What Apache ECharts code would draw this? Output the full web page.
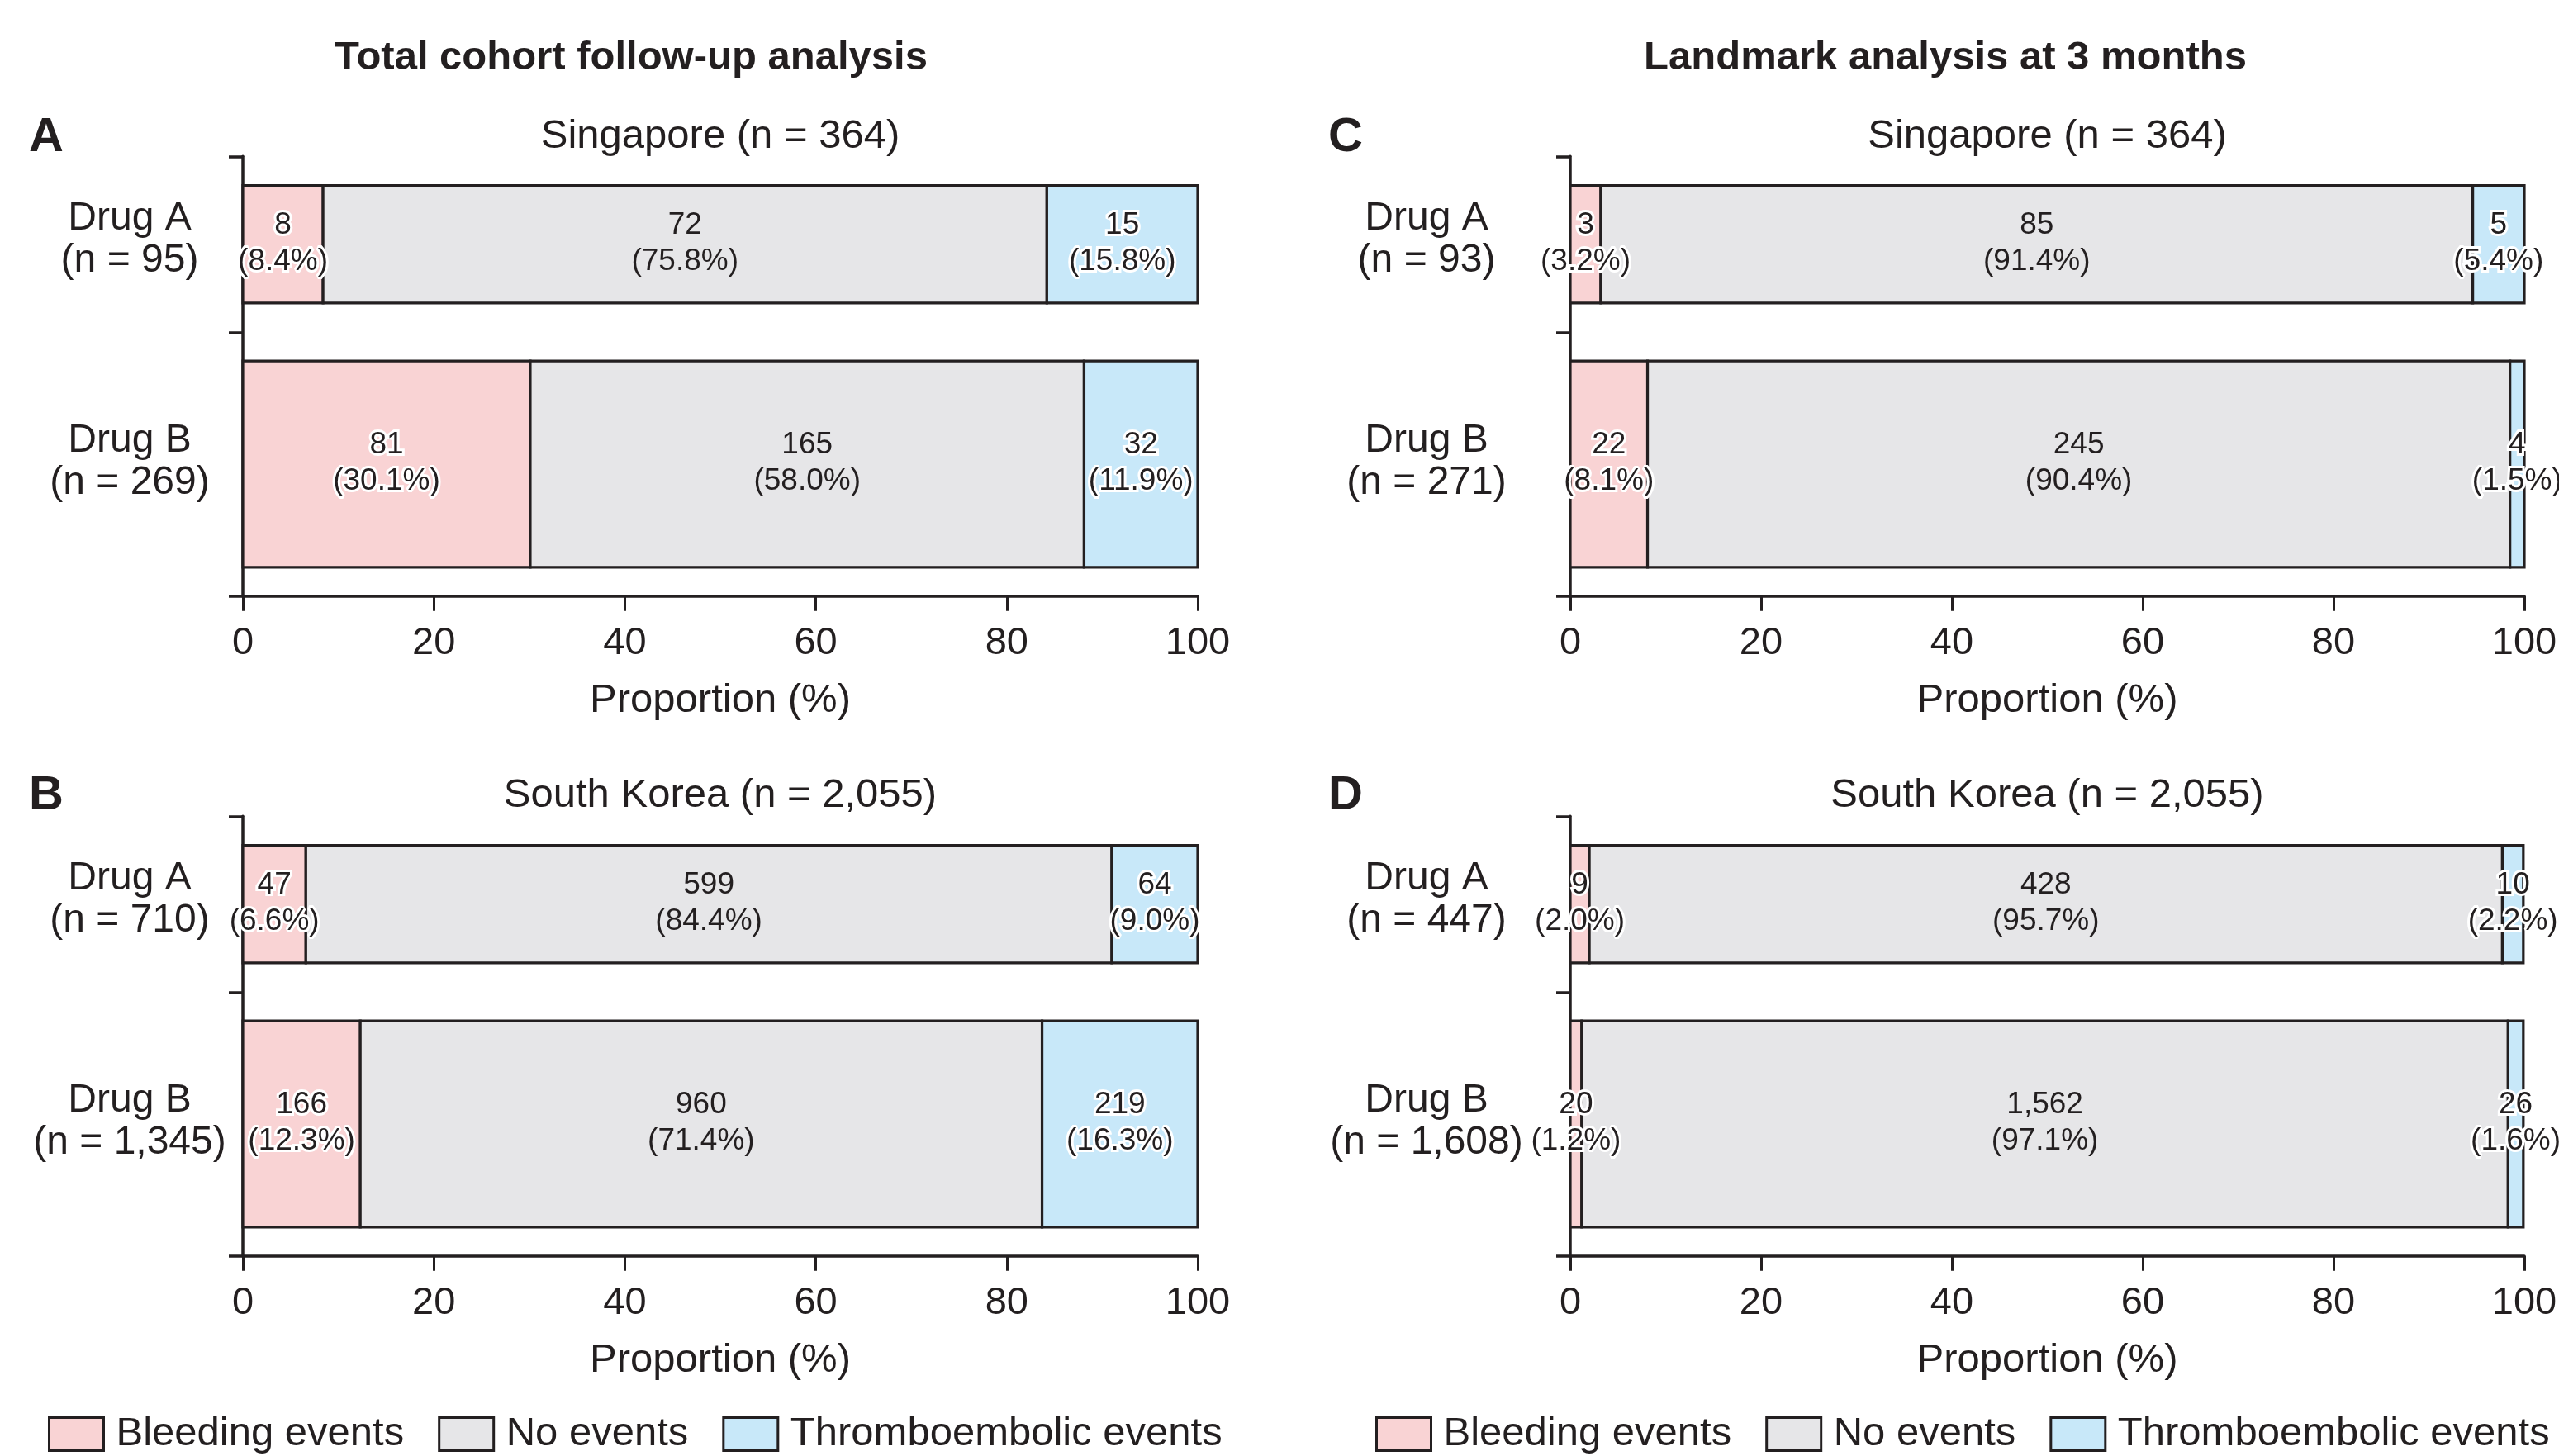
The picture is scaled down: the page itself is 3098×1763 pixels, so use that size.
<!DOCTYPE html>
<html><head><meta charset="utf-8">
<script src="https://cdn.jsdelivr.net/npm/echarts@6/dist/echarts.min.js"></script>
<style>html,body{margin:0;padding:0;background:#fff}#c{width:3098px;height:1763px}</style>
</head><body><div id="c"></div>
<script>
// ---------------- data ----------------
const categoryNames = ['Bleeding events', 'No events', 'Thromboembolic events'];
const rowNames = ['Drug A', 'Drug B'];
const columnTitles = ['Total cohort follow-up analysis', 'Landmark analysis at 3 months'];
const panelLetters = ['A', 'B', 'C', 'D'];
const panelTitles = ['Singapore (n = 364)', 'South Korea (n = 2,055)', 'Singapore (n = 364)', 'South Korea (n = 2,055)'];
const xTickInterval = 20;

// Panel A – Singapore, total cohort
const panelA_n = [95, 269];
const panelA_bleeding = [8, 81];
const panelA_bleedingPct = [8.4, 30.1];
const panelA_none = [72, 165];
const panelA_nonePct = [75.8, 58.0];
const panelA_thrombo = [15, 32];
const panelA_thromboPct = [15.8, 11.9];

// Panel B – South Korea, total cohort
const panelB_n = [710, 1345];
const panelB_bleeding = [47, 166];
const panelB_bleedingPct = [6.6, 12.3];
const panelB_none = [599, 960];
const panelB_nonePct = [84.4, 71.4];
const panelB_thrombo = [64, 219];
const panelB_thromboPct = [9.0, 16.3];

// Panel C – Singapore, landmark 3 months
const panelC_n = [93, 271];
const panelC_bleeding = [3, 22];
const panelC_bleedingPct = [3.2, 8.1];
const panelC_none = [85, 245];
const panelC_nonePct = [91.4, 90.4];
const panelC_thrombo = [5, 4];
const panelC_thromboPct = [5.4, 1.5];

// Panel D – South Korea, landmark 3 months
const panelD_n = [447, 1608];
const panelD_bleeding = [9, 20];
const panelD_bleedingPct = [2.0, 1.2];
const panelD_none = [428, 1562];
const panelD_nonePct = [95.7, 97.1];
const panelD_thrombo = [10, 26];
const panelD_thromboPct = [2.2, 1.6];

const panelN = [panelA_n, panelB_n, panelC_n, panelD_n];
const panelCounts = [
  [panelA_bleeding, panelA_none, panelA_thrombo],
  [panelB_bleeding, panelB_none, panelB_thrombo],
  [panelC_bleeding, panelC_none, panelC_thrombo],
  [panelD_bleeding, panelD_none, panelD_thrombo]
];
const panelPcts = [
  [panelA_bleedingPct, panelA_nonePct, panelA_thromboPct],
  [panelB_bleedingPct, panelB_nonePct, panelB_thromboPct],
  [panelC_bleedingPct, panelC_nonePct, panelC_thromboPct],
  [panelD_bleedingPct, panelD_nonePct, panelD_thromboPct]
];

// ---------------- layout & style ----------------
const INK = '#231f20';
const FILL = ['#F9D3D4', '#E6E6E8', '#C8E8F9'];
const FONT = '"Liberation Sans", Arial, Helvetica, sans-serif';
const GRID_LEFT = [294, 294, 1901, 1901];
const GRID_TOP = [189.3, 988.3, 189.3, 988.3];
const GRID_W = [1156, 1156, 1155, 1155];
const GRID_H = 532.4;
const ROW_CENTER = [20, 70];
const ROW_HALF = [13.35, 23.45];
const ROW_LABEL_POS = [19, 69.5];
const Y_TICKS = [0, 40, 100];
const Y_LABEL_MARGIN = [137, 137, 174, 174];

const fmt = v => Number(v).toLocaleString('en-US');

function makeRender(k) {
  return function (params, api) {
    const x0 = api.value(0), x1 = api.value(1), row = api.value(2);
    const count = api.value(3), pct = api.value(4);
    const yc = ROW_CENTER[row], hh = ROW_HALF[row];
    const a = api.coord([x0, yc - hh]);
    const b = api.coord([x1, yc + hh]);
    const mid = api.coord([(x0 + x1) / 2, yc]);
    const halo = k !== 1;
    return {
      type: 'group',
      children: [
        {
          type: 'rect',
          shape: { x: a[0], y: Math.min(a[1], b[1]), width: b[0] - a[0], height: Math.abs(b[1] - a[1]) },
          style: { fill: FILL[k], stroke: INK, lineWidth: 3.2 }
        },
        {
          type: 'text',
          x: mid[0], y: mid[1] - 1,
          z2: 100,
          style: {
            text: fmt(count) + '\n(' + pct.toFixed(1) + '%)',
            fill: INK, fontSize: 37, fontFamily: FONT, lineHeight: 44,
            align: 'center', verticalAlign: 'middle',
            stroke: halo ? '#ffffff' : null, lineWidth: halo ? 6 : 0
          }
        }
      ]
    };
  };
}

const grids = [], xAxes = [], yAxes = [], series = [];
for (let p = 0; p < 4; p++) {
  grids.push({ left: GRID_LEFT[p], top: GRID_TOP[p], width: GRID_W[p], height: GRID_H, outerBoundsMode: 'none', containLabel: false });
  xAxes.push({
    gridIndex: p, type: 'value', min: 0, max: 100, interval: xTickInterval, position: 'bottom',
    axisLine: { show: true, onZero: false, lineStyle: { color: INK, width: 3.5 } },
    axisTick: { show: true, length: 18, lineStyle: { color: INK, width: 3 } },
    axisLabel: { fontSize: 47, fontFamily: FONT, color: INK, margin: 34 },
    splitLine: { show: false },
    name: 'Proportion (%)', nameLocation: 'middle', nameGap: 102,
    nameTextStyle: { fontSize: 49, fontFamily: FONT, color: INK }
  });
  const nArr = panelN[p];
  yAxes.push({
    gridIndex: p, type: 'value', min: 0, max: 100, inverse: true, position: 'left',
    axisLine: { show: true, onZero: false, lineStyle: { color: INK, width: 3.5 } },
    axisTick: { show: true, length: 17, customValues: Y_TICKS, lineStyle: { color: INK, width: 3.5 } },
    axisLabel: {
      customValues: ROW_LABEL_POS,
      formatter: function (v) {
        let i = 0, best = Infinity;
        ROW_LABEL_POS.forEach((q, j) => { if (Math.abs(q - v) < best) { best = Math.abs(q - v); i = j; } });
        return rowNames[i] + '\n(n = ' + fmt(nArr[i]) + ')';
      },
      align: 'center', margin: Y_LABEL_MARGIN[p],
      fontSize: 48, lineHeight: 51, fontFamily: FONT, color: INK
    },
    splitLine: { show: false }
  });
  for (let k = 0; k < 3; k++) {
    const data = rowNames.map((r, i) => {
      let start = 0;
      for (let j = 0; j < k; j++) start += panelPcts[p][j][i];
      const pct = panelPcts[p][k][i];
      return [start, start + pct, i, panelCounts[p][k][i], pct];
    });
    series.push({
      type: 'custom', name: categoryNames[k],
      xAxisIndex: p, yAxisIndex: p,
      renderItem: makeRender(k),
      encode: { x: [0, 1], y: 2 },
      itemStyle: { color: FILL[k], borderColor: INK, borderWidth: 3 },
      clip: false,
      silent: true,
      data: data
    });
  }
}

const graphics = [];
const colTitleX = [764, 2355];
columnTitles.forEach((t, c) => graphics.push({
  type: 'text', x: colTitleX[c], y: 70,
  style: { text: t, fill: INK, fontSize: 49, fontWeight: 'bold', fontFamily: FONT, align: 'center', verticalAlign: 'middle' }
}));
const letterX = [35, 35, 1608, 1608];
const letterY = [167, 964, 167, 964];
panelLetters.forEach((t, p) => graphics.push({
  type: 'text', x: letterX[p], y: letterY[p],
  style: { text: t, fill: INK, fontSize: 58, fontWeight: 'bold', fontFamily: FONT, align: 'left', verticalAlign: 'middle' }
}));
const ptY = [165, 963, 165, 963];
panelTitles.forEach((t, p) => graphics.push({
  type: 'text', x: GRID_LEFT[p] + GRID_W[p] / 2, y: ptY[p],
  style: { text: t, fill: INK, fontSize: 49, fontFamily: FONT, align: 'center', verticalAlign: 'middle' }
}));

const legendLeft = [53, 1660];
const legends = legendLeft.map(l => ({
  data: categoryNames, left: l, top: 1707, orient: 'horizontal',
  icon: 'rect', itemWidth: 66, itemHeight: 40, itemGap: 41, selectedMode: false,
  textStyle: { fontSize: 49, fontFamily: FONT, color: INK, padding: [0, 0, 0, 10] },
  itemStyle: { borderColor: INK, borderWidth: 3 }
}));

const chart = echarts.init(document.getElementById('c'), null, { renderer: 'canvas' });
chart.setOption({
  animation: false,
  backgroundColor: '#ffffff',
  textStyle: { fontFamily: FONT },
  grid: grids, xAxis: xAxes, yAxis: yAxes,
  legend: legends,
  graphic: graphics,
  series: series
});
</script></body></html>
